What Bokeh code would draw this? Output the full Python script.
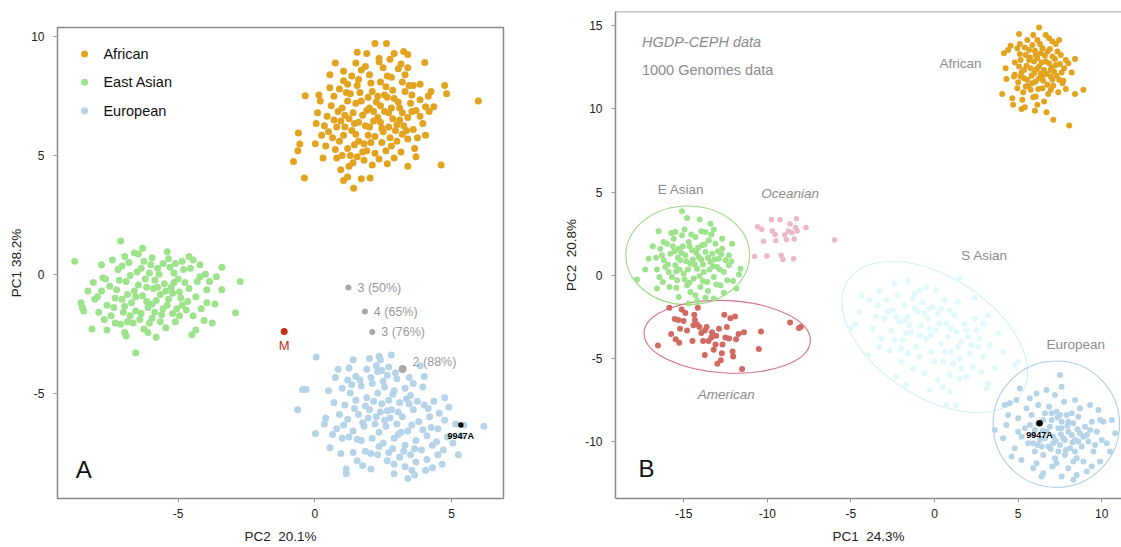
from bokeh.plotting import figure
from bokeh.layouts import row
from bokeh.models import FixedTicker, Span, Range1d
from bokeh.core.properties import value
from bokeh.embed import file_html
from bokeh.resources import INLINE

FONT = "Liberation Sans"

# ---------------- colours ----------------
C_AFR = "#E2A31F"
C_EAS = "#9DE38B"
C_EUR = "#B6D4E8"
C_SAS = "#E2F9FC"
C_OCE = "#EDB8C6"
C_AME = "#D26A62"
C_GRAY = "#A8A8A8"
C_M = "#C23216"

# ---------------- panel A data (PC2, PC1) ----------------
A_AFRICAN = [
    (5.98, 7.30), (4.62, 4.60), (4.75, 7.95), (4.82, 7.60), (-0.78, 4.75), (-0.38, 4.05), (-0.62, 5.20),
    (-0.55, 5.48), (-0.35, 7.52), (1.42, 3.62), (3.40, 4.55), (2.20, 9.72), (2.62, 9.72), (0.75, 8.90),
    (1.55, 9.35), (3.25, 9.38), (3.40, 9.25), (4.02, 8.92), (-0.60, 5.95), (1.05, 3.95), (2.02, 4.05),
    (1.70, 4.02), (0.95, 4.40), (1.20, 4.10), (3.40, 8.70), (4.25, 7.70), (4.18, 6.85), (4.05, 5.85),
    (3.65, 5.30), (3.70, 4.95), (0.10, 6.80), (0.05, 6.35), (0.02, 5.50), (0.30, 4.90), (0.55, 8.40),
    (1.05, 8.55), (1.50, 8.90), (1.90, 9.30), (2.35, 9.10), (2.90, 9.30), (3.15, 8.85), (3.85, 8.00),
    (4.15, 7.50), (3.60, 7.95), (0.20, 7.30), (0.70, 7.50),
    (0.5, 6.0), (0.7, 6.5), (0.9, 5.6), (1.0, 7.0), (1.1, 6.2), (1.2, 5.3), (1.3, 7.6), (1.4, 6.8),
    (1.5, 5.9), (1.6, 6.4), (1.7, 7.3), (1.8, 5.5), (1.9, 6.9), (2.0, 6.2), (2.1, 7.7), (2.2, 5.8),
    (2.3, 6.6), (2.4, 7.1), (2.5, 6.0), (2.6, 7.9), (2.7, 6.8), (2.8, 5.4), (2.9, 7.4), (3.0, 6.3),
    (3.1, 7.0), (3.2, 5.9), (3.3, 7.7), (3.4, 6.6), (3.5, 7.2), (0.6, 7.1), (0.8, 4.9), (1.0, 5.0),
    (1.2, 8.0), (1.4, 4.7), (1.6, 8.2), (1.8, 4.8), (2.0, 8.4), (2.2, 5.1), (2.4, 8.1), (2.6, 5.2),
    (2.8, 8.3), (3.0, 5.6), (3.2, 8.1), (3.4, 5.7), (3.6, 6.1), (0.4, 5.4), (0.9, 7.8), (1.3, 5.0),
    (1.7, 8.6), (2.1, 4.6), (2.5, 8.7), (2.9, 4.9), (3.3, 8.4), (3.7, 6.9), (1.1, 6.7), (1.5, 7.2),
    (1.9, 5.2), (2.3, 7.5), (2.7, 6.2), (3.1, 6.5), (0.8, 6.2), (1.2, 7.3), (1.6, 5.6), (2.0, 7.0),
    (2.4, 6.4), (2.8, 7.0), (3.2, 6.8), (1.35, 6.05), (1.75, 6.7), (2.15, 6.45), (2.55, 6.85),
    (2.95, 6.05), (1.95, 7.45), (2.45, 5.55), (1.55, 7.95), (2.85, 7.75), (0.45, 6.65), (3.85, 7.35),
    (3.75, 5.75), (4.35, 7.05), (0.25, 5.85), (0.15, 7.55), (3.95, 6.35), (2.35, 8.95), (1.85, 8.75),
    (2.75, 9.05), (1.05, 8.15),
    (0.65, 5.75), (0.85, 6.85), (1.05, 5.85), (1.25, 6.55), (1.45, 5.45), (1.65, 7.65), (1.85, 6.25),
    (2.05, 5.55), (2.25, 7.25), (2.45, 6.15), (2.65, 7.45), (2.85, 6.55), (3.05, 7.25), (3.25, 6.25),
    (3.45, 7.95), (1.15, 7.65), (1.35, 8.35), (2.05, 8.05), (2.65, 8.35), (3.05, 8.65), (0.75, 5.25),
    (1.55, 4.95), (2.35, 4.85), (3.15, 5.15), (3.55, 6.85), (0.35, 6.25), (1.95, 5.85), (2.15, 6.85),
    (1.45, 6.35), (2.75, 5.75), (3.35, 6.05), (0.95, 6.45), (1.75, 5.15), (2.55, 7.55), (3.55, 7.55),
    (1.25, 4.55), (2.65, 4.65), (4.05, 7.05), (3.85, 6.65), (0.55, 7.85),
]
A_EAST_ASIAN = [
    (-8.78, 0.55), (-8.55, -1.20), (-8.50, -1.40), (-8.45, -1.55), (-8.30, -0.70), (-8.10, -0.35),
    (-8.15, -2.30), (-7.75, -0.15), (-7.10, 1.40), (-6.30, 1.10), (-5.40, 0.95), (-4.60, 0.75),
    (-4.45, 0.60), (-3.40, 0.30), (-2.73, -0.30), (-3.40, -0.65), (-2.90, -1.62), (-3.75, -2.05),
    (-4.35, -2.35), (-4.50, -2.55), (-5.80, -2.65), (-6.10, -2.45), (-6.55, -3.30), (-6.95, -2.45),
    (-7.30, -2.05), (-7.60, -2.35), (-3.85, -0.30), (-3.95, -1.20), (-4.20, -0.10), (-4.00, 0.00),
    (-7.90, -1.60), (-7.80, 0.40), (-6.60, 0.90), (-5.95, 0.70), (-5.10, 0.45),
    (-7.5, -0.5), (-7.3, -1.0), (-7.2, 0.2), (-7.0, -1.6), (-6.9, -0.3), (-6.8, 0.5), (-6.7, -1.2),
    (-6.6, -0.7), (-6.5, 0.1), (-6.4, -1.9), (-6.3, -0.9), (-6.2, -0.2), (-6.1, -1.4), (-6.0, 0.4),
    (-5.9, -0.6), (-5.8, -1.1), (-5.7, 0.0), (-5.6, -1.7), (-5.5, -0.4), (-5.4, -1.3), (-5.3, 0.3),
    (-5.2, -0.8), (-5.1, -2.0), (-5.0, -0.2), (-4.9, -1.0), (-4.8, 0.2), (-4.7, -1.5), (-4.6, -0.6),
    (-7.6, -1.3), (-7.4, 0.6), (-7.1, -2.1), (-6.85, -0.85), (-6.55, -1.55), (-6.25, 0.55),
    (-5.95, -1.85), (-5.65, -0.85), (-5.35, 0.65), (-5.05, -1.45), (-4.75, -0.35), (-4.45, -1.75),
    (-4.35, -0.95), (-7.95, -0.95), (-6.75, -0.05), (-6.45, -0.45), (-6.15, -1.15), (-5.85, -0.25),
    (-5.55, -1.45), (-5.25, -0.55), (-4.95, -0.75), (-7.25, -0.65), (-6.95, -1.35), (-6.35, -1.65),
    (-5.75, 0.25), (-5.15, 0.05), (-7.05, 0.35), (-4.55, 0.25), (-4.15, -1.45), (-3.95, -0.65),
    (-6.05, -2.05), (-5.45, -2.25), (-6.65, -2.05), (-7.45, -1.75), (-8.05, -1.05), (-6.9, -2.6),
    (-5.2, -1.65), (-4.05, -1.95), (-3.65, -1.25),
    (-7.65, -0.2), (-7.35, -1.4), (-7.15, -0.25), (-6.95, 0.75), (-6.75, -1.75), (-6.55, -0.95),
    (-6.35, 0.25), (-6.15, -0.55), (-5.95, -1.25), (-5.75, -0.55), (-5.55, 0.45), (-5.35, -1.05),
    (-5.15, -0.35), (-4.95, -1.75), (-4.85, 0.55), (-4.65, -1.15), (-6.85, -2.0), (-6.25, -2.3),
    (-5.65, -2.0), (-7.8, -0.7), (-7.7, -1.9), (-4.3, -0.3), (-4.2, 0.4), (-3.6, -0.1), (-6.45, 0.85),
    (-5.85, -1.6), (-7.05, -1.05), (-6.05, 0.05), (-5.45, -0.7), (-4.85, -1.3),
]
A_EUROPEAN = [
    (-0.63, -5.70), (-0.45, -4.85), (-0.32, -4.85), (0.05, -3.48), (0.02, -6.70), (0.40, -6.05),
    (0.35, -6.30), (0.85, -4.00), (0.75, -4.35), (1.40, -3.60), (2.00, -3.55), (2.35, -3.45),
    (2.80, -3.40), (2.40, -3.60), (4.00, -4.30), (3.60, -4.60), (4.75, -5.20), (4.90, -5.60),
    (5.15, -6.30), (6.18, -6.40), (5.35, -6.80), (5.25, -7.60), (4.65, -8.00), (4.30, -8.15),
    (3.65, -8.45), (3.40, -8.60), (2.90, -8.40), (2.05, -8.20), (1.15, -8.40), (1.15, -8.20),
    (0.55, -7.30), (1.40, -7.50), (1.00, -6.90), (4.70, -7.40), (5.05, -7.10), (4.50, -7.60),
    (0.70, -5.40), (0.50, -4.90), (1.20, -4.45), (3.85, -3.85),
    (1.5, -4.3), (1.9, -4.0), (2.3, -4.1), (2.7, -3.9), (3.0, -4.4), (1.3, -5.0), (1.7, -4.7),
    (2.1, -4.6), (2.5, -4.5), (2.9, -4.9), (3.3, -4.8), (1.1, -5.5), (1.5, -5.3), (1.9, -5.2),
    (2.3, -5.0), (2.7, -5.3), (3.1, -5.4), (3.5, -5.1), (1.2, -6.1), (1.6, -5.9), (2.0, -5.7),
    (2.4, -5.8), (2.8, -5.7), (3.2, -6.0), (3.6, -5.7), (4.0, -5.5), (1.4, -6.6), (1.8, -6.4),
    (2.2, -6.3), (2.6, -6.4), (3.0, -6.3), (3.4, -6.6), (3.8, -6.2), (4.2, -6.0), (1.7, -7.0),
    (2.1, -6.9), (2.5, -7.1), (2.9, -6.9), (3.3, -7.2), (3.7, -7.0), (4.1, -6.8), (4.5, -6.5),
    (2.3, -7.6), (2.7, -7.5), (3.1, -7.7), (3.5, -7.6), (3.9, -7.4), (4.3, -7.2), (2.9, -8.0),
    (3.3, -8.1), (3.7, -7.9), (4.1, -7.8), (0.9, -5.9), (0.8, -6.5), (1.0, -4.8), (2.55, -4.75),
    (2.45, -5.45), (2.15, -5.35), (2.85, -5.05), (2.75, -6.05), (2.35, -6.65), (3.15, -6.65),
    (1.95, -6.05), (3.45, -5.45), (2.05, -4.35), (2.65, -4.25), (1.85, -7.45), (4.35, -5.35),
    (4.55, -5.85), (4.75, -6.15), (5.45, -6.35), (1.55, -7.85), (0.95, -7.55), (3.95, -4.75),
    (1.25, -3.95),
    (1.65, -4.45), (2.45, -4.05), (2.95, -4.15), (1.45, -5.65), (1.85, -5.55), (2.65, -5.75),
    (3.05, -5.8), (3.35, -5.25), (1.75, -6.25), (2.25, -6.0), (2.55, -6.15), (3.05, -6.75),
    (3.55, -6.35), (3.95, -6.55), (2.35, -7.25), (2.85, -7.35), (3.25, -7.45), (3.65, -7.35),
    (4.25, -6.45), (4.45, -7.05), (2.65, -7.85), (3.55, -8.25), (1.25, -6.85), (1.55, -6.95),
    (3.75, -5.35), (4.15, -5.65), (1.35, -4.65), (2.25, -3.85), (1.05, -6.35), (0.65, -6.75),
    (4.85, -6.85), (3.45, -4.35), (2.05, -7.55), (4.05, -8.25), (1.75, -8.05),
]
A_PROJ_X = [1.23, 1.83, 2.10, 3.21]
A_PROJ_Y = [-0.56, -1.57, -2.43, -3.99]
A_PROJ_LABELS = ["3 (50%)", "4 (65%)", "3 (76%)", "2 (88%)"]
A_M = (-1.12, -2.41)
A_9947A = (5.34, -6.35)
LEGEND_LABELS = ["African", "East Asian", "European"]
LEGEND_COLORS = [C_AFR, C_EAS, C_EUR]

# ---------------- panel B data (PC1, PC2) ----------------
B_AFRICAN = [
    (4.15, 13.35), (4.25, 12.45), (4.30, 11.80), (4.05, 10.90), (4.65, 10.65), (4.70, 10.25),
    (5.05, 14.50), (5.10, 13.90), (6.25, 14.90), (5.90, 14.45), (7.05, 14.05), (7.25, 13.90),
    (8.00, 12.75), (8.40, 13.00), (8.90, 11.15), (8.40, 10.90), (8.05, 9.00), (7.10, 9.35),
    (6.70, 9.80), (6.00, 9.90), (5.40, 10.10), (5.20, 10.00), (4.80, 12.05), (7.85, 11.20),
    (7.70, 11.70), (4.55, 13.80), (4.40, 13.55), (8.20, 12.20),
    (4.8, 12.8), (5.0, 11.6), (5.1, 13.3), (5.2, 12.2), (5.3, 11.0), (5.4, 13.7), (5.5, 12.6),
    (5.6, 11.4), (5.7, 13.1), (5.8, 12.0), (5.9, 10.7), (6.0, 13.5), (6.1, 12.4), (6.2, 11.2),
    (6.3, 13.9), (6.4, 12.8), (6.5, 11.7), (6.6, 13.2), (6.7, 12.1), (6.8, 10.9), (6.9, 13.6),
    (7.0, 12.5), (7.1, 11.4), (7.2, 13.0), (7.3, 12.0), (7.4, 11.0), (7.5, 12.7), (7.6, 12.2),
    (5.05, 12.55), (5.35, 11.85), (5.65, 12.95), (5.95, 12.85), (6.25, 11.85), (6.55, 12.35),
    (6.85, 12.75), (7.15, 12.25), (5.45, 13.25), (5.85, 13.85), (6.45, 13.65), (6.75, 11.45),
    (6.05, 11.65), (5.75, 11.15), (6.95, 11.95), (6.35, 12.15), (6.15, 13.05), (7.35, 13.45),
    (7.65, 11.55), (5.25, 10.55), (6.55, 10.45), (4.95, 11.25), (5.55, 14.15), (6.85, 14.25),
    (7.55, 13.25), (4.75, 11.95), (6.15, 10.25), (6.65, 14.45),
    (5.15, 12.95), (5.35, 12.35), (5.55, 11.75), (5.75, 12.45), (5.95, 12.15), (6.05, 13.25),
    (6.25, 12.55), (6.45, 11.95), (6.65, 12.85), (6.75, 13.45), (6.95, 12.35), (7.05, 11.75),
    (7.25, 12.65), (7.45, 11.75), (5.65, 13.55), (6.35, 13.35), (7.05, 13.15), (5.85, 11.55),
    (6.45, 11.25), (6.95, 11.15), (5.45, 11.35), (7.75, 12.45), (5.15, 11.95), (6.15, 14.15),
    (6.05, 10.75), (7.85, 12.95), (4.95, 13.65), (7.45, 14.15),
]
B_EAST_ASIAN = [
    (-17.80, -0.25), (-17.10, 1.00), (-16.60, 0.35), (-16.50, 2.65), (-15.50, 2.60), (-15.10, 3.85),
    (-14.80, 3.45), (-14.05, 3.35), (-13.40, 3.10), (-13.20, 2.75), (-12.70, 2.20), (-12.10, 1.90),
    (-11.60, 0.40), (-11.70, 0.05), (-11.85, -0.80), (-12.05, -0.35), (-12.60, -1.05), (-13.20, -1.40),
    (-14.20, -1.55), (-14.70, -1.70), (-15.30, -1.30), (-16.25, -0.40), (-16.60, -0.80), (-15.85, -0.70),
    (-16.20, 2.00), (-17.30, 0.35), (-12.30, 1.20), (-13.70, 2.60), (-14.30, -1.20), (-13.70, -1.35),
    (-16.4, 1.6), (-16.2, 0.9), (-16.0, 1.9), (-15.9, 0.2), (-15.8, 1.3), (-15.6, 2.2), (-15.5, 0.6),
    (-15.4, -0.3), (-15.3, 1.6), (-15.2, 0.9), (-15.1, 2.4), (-15.0, 0.1), (-14.9, 1.2), (-14.8, -0.6),
    (-14.7, 2.0), (-14.6, 0.7), (-14.5, 1.5), (-14.4, -0.2), (-14.3, 2.3), (-14.2, 0.4), (-14.1, 1.1),
    (-14.0, -0.7), (-13.9, 1.8), (-13.8, 0.2), (-13.7, 1.4), (-13.6, -0.4), (-13.5, 2.1), (-13.4, 0.8),
    (-13.3, 1.3), (-13.2, -0.1), (-13.1, 1.9), (-13.0, 0.5), (-12.9, 1.0), (-12.8, -0.6), (-12.7, 1.6),
    (-12.6, 0.2), (-12.5, 0.9), (-16.1, 0.5), (-15.7, -0.1), (-15.35, 1.05), (-15.05, 1.75),
    (-14.75, 0.35), (-14.45, 0.95), (-14.15, 1.65), (-13.85, 0.65), (-13.55, 1.05), (-13.25, 0.55),
    (-12.95, 1.45), (-14.95, 2.75), (-13.95, 2.65), (-15.55, 1.45), (-14.05, -0.05), (-14.6, -1.0),
    (-12.4, -0.3), (-16.45, -0.1), (-12.3, 0.6),
    (-16.3, 1.2), (-15.95, 0.65), (-15.65, 1.75), (-15.45, 0.25), (-15.15, 1.35), (-14.85, 0.85),
    (-14.65, 1.75), (-14.35, 0.65), (-14.25, 1.35), (-13.95, 0.95), (-13.75, 1.85), (-13.45, 0.35),
    (-13.15, 0.95), (-12.85, 0.35), (-12.75, 1.25), (-15.25, 0.35), (-14.55, 2.45), (-13.35, 2.45),
    (-15.75, 2.55), (-16.65, 1.05), (-14.95, -0.25), (-13.85, -0.35), (-13.05, -0.55), (-15.45, -0.75),
    (-12.15, 0.85), (-16.85, 1.75), (-14.65, -0.45), (-13.55, -0.95),
]
B_OCEANIAN = [
    (-10.59, 2.92), (-10.34, 2.77), (-10.23, 2.04), (-10.02, 1.16), (-9.75, 3.36), (-9.70, 2.67),
    (-9.53, 2.46), (-9.49, 2.08), (-9.24, 3.34), (-9.17, 1.20), (-9.07, 0.95), (-8.96, 2.42),
    (-8.85, 2.14), (-8.75, 2.67), (-8.64, 3.09), (-8.54, 2.56), (-8.43, 0.99), (-8.39, 2.18),
    (-8.32, 2.88), (-8.26, 3.40), (-8.22, 2.67), (-7.69, 2.88), (-10.76, 1.13), (-5.99, 2.12),
]
B_AMERICAN = [
    (-16.54, -4.22), (-15.86, -1.95), (-15.75, -3.53), (-15.54, -2.63), (-15.48, -3.84), (-15.33, -2.69),
    (-15.22, -3.21), (-15.27, -4.05), (-15.12, -2.06), (-15.01, -2.75), (-14.90, -2.27), (-14.80, -3.32),
    (-14.48, -3.95), (-14.42, -3.00), (-14.37, -2.37), (-14.33, -2.69), (-14.20, -2.96), (-14.16, -1.95),
    (-14.06, -3.11), (-13.95, -3.47), (-13.84, -3.95), (-13.74, -3.32), (-13.63, -3.11), (-13.52, -3.95),
    (-13.31, -3.42), (-13.21, -4.47), (-13.10, -4.16), (-13.06, -3.63), (-12.99, -5.32), (-12.89, -3.21),
    (-12.78, -5.11), (-12.68, -4.16), (-12.57, -2.37), (-12.51, -3.74), (-12.42, -3.11), (-12.29, -3.80),
    (-12.21, -2.58), (-12.08, -4.58), (-12.04, -4.89), (-11.93, -2.48), (-11.87, -3.84), (-11.72, -3.53),
    (-11.51, -5.63), (-11.40, -3.42), (-10.51, -4.43), (-10.38, -3.38), (-8.64, -2.84), (-8.11, -3.17),
    (-8.00, -3.11), (-12.72, -4.68), (-13.35, -3.74), (-13.74, -4.79),
]
B_SOUTH_ASIAN = [
    (-4.75, -2.95), (-4.35, -1.20), (-3.90, -1.50), (-3.30, -0.95), (-2.40, -0.50), (-1.60, -0.35),
    (-0.50, -0.70), (0.10, -0.90), (1.50, -0.20), (2.40, -1.35), (3.20, -2.40), (3.80, -3.50),
    (4.10, -4.60), (4.80, -5.40), (5.00, -5.20), (3.20, -6.50), (3.10, -6.80), (1.50, -6.20),
    (0.90, -7.00), (0.70, -7.80), (1.30, -7.80), (-1.70, -6.60), (-2.30, -6.10), (-3.30, -4.30),
    (-4.00, -4.80), (-5.00, -3.20), (-4.50, -2.20), (2.80, -5.80), (-0.30, -6.90),
    (-3.4, -1.8), (-3.0, -2.6), (-2.9, -1.5), (-2.6, -3.3), (-2.5, -2.1), (-2.2, -1.2), (-2.1, -2.8),
    (-1.9, -3.9), (-1.8, -1.8), (-1.6, -2.5), (-1.4, -3.4), (-1.3, -1.4), (-1.1, -4.3), (-1.0, -2.2),
    (-0.8, -3.0), (-0.7, -1.6), (-0.5, -3.8), (-0.4, -2.6), (-0.2, -4.6), (-0.1, -1.9), (0.1, -3.3),
    (0.2, -2.3), (0.4, -4.1), (0.5, -5.2), (0.7, -2.9), (0.8, -3.7), (1.0, -4.6), (1.2, -2.4),
    (1.3, -3.4), (1.5, -5.0), (1.6, -4.0), (1.8, -2.9), (2.0, -3.7), (2.1, -4.7), (2.3, -5.5),
    (2.5, -3.3), (2.6, -4.3), (2.9, -4.9), (-3.7, -3.2), (-3.2, -3.8), (-2.7, -4.5), (-2.0, -5.2),
    (-1.3, -5.6), (-0.6, -5.9), (0.2, -6.3), (0.9, -6.0), (1.9, -6.1), (-0.9, -0.9), (0.6, -1.5),
    (1.4, -1.6), (-1.6, -4.7), (-2.4, -3.9), (3.3, -4.2), (2.9, -2.9), (-0.3, -3.2), (0.4, -2.0),
    (1.1, -5.3), (-1.8, -2.7), (-0.9, -4.9), (3.6, -5.6),
    (-2.8, -2.2), (-2.3, -2.5), (-1.5, -3.0), (-1.2, -2.0), (-0.6, -2.3), (-0.2, -3.6), (0.3, -2.9),
    (0.6, -4.6), (1.0, -3.2), (1.4, -4.3), (1.9, -3.3), (2.2, -4.2), (-1.7, -3.5), (-0.9, -3.6),
    (0.0, -5.2), (-2.0, -4.4), (0.9, -2.1), (2.7, -3.8), (-3.5, -2.5), (1.6, -5.6), (-1.2, -1.1),
    (0.5, -6.7), (-0.3, -2.0), (2.4, -2.6),
]
B_EUROPEAN = [
    (3.60, -9.30), (4.10, -9.80), (4.20, -7.80), (4.50, -7.70), (4.90, -7.50), (5.10, -6.80),
    (5.70, -7.40), (6.10, -7.10), (6.70, -6.90), (7.20, -7.20), (7.60, -6.70), (7.50, -6.00),
    (8.40, -7.50), (9.30, -7.80), (9.80, -8.10), (10.10, -8.80), (10.60, -8.70), (10.80, -9.50),
    (10.50, -10.60), (10.30, -10.10), (9.90, -11.20), (9.40, -11.50), (9.10, -11.80), (8.50, -12.00),
    (8.30, -12.30), (7.60, -12.10), (6.50, -11.90), (5.90, -11.60), (5.20, -11.10), (4.80, -10.40),
    (4.60, -10.90), (4.30, -9.00), (5.00, -8.60), (4.40, -8.40), (6.40, -12.10),
    (5.4, -9.2), (5.6, -10.1), (5.8, -8.4), (5.9, -9.6), (6.0, -10.6), (6.2, -8.9), (6.3, -9.9),
    (6.5, -10.8), (6.6, -8.3), (6.7, -9.4), (6.8, -10.3), (7.0, -8.7), (7.1, -9.7), (7.2, -11.0),
    (7.3, -8.2), (7.4, -9.2), (7.5, -10.2), (7.6, -8.8), (7.7, -9.8), (7.8, -10.8), (7.9, -8.4),
    (8.0, -9.4), (8.1, -10.4), (8.3, -8.9), (8.4, -9.9), (8.5, -11.0), (8.6, -8.5), (8.7, -9.5),
    (8.8, -10.3), (9.0, -9.1), (9.2, -10.0), (9.4, -8.8), (9.5, -10.6), (5.5, -8.0), (6.1, -11.3),
    (7.05, -11.5), (8.0, -11.6), (8.9, -11.2), (9.7, -9.4), (10.0, -9.9), (6.85, -7.9), (7.75, -7.6),
    (8.7, -8.0), (5.2, -9.7), (6.45, -9.35), (7.25, -9.95), (7.95, -9.05), (8.25, -10.05),
    (7.55, -9.55), (6.95, -10.45), (8.55, -9.25), (7.35, -8.55), (6.15, -10.2), (9.1, -9.6), (7.85, -10.5),
    (5.7, -9.0), (6.0, -9.3), (6.4, -10.3), (6.6, -9.8), (6.9, -9.1), (7.1, -10.1), (7.4, -10.6),
    (7.6, -9.2), (7.8, -9.9), (8.0, -8.8), (8.2, -9.6), (8.4, -10.6), (8.6, -10.0), (8.9, -9.7),
    (9.3, -9.3), (7.0, -8.3), (7.5, -8.4), (8.2, -8.3), (6.5, -8.7), (5.9, -10.1), (7.3, -11.3),
    (8.3, -11.2), (9.6, -10.2), (5.0, -9.4), (9.9, -8.7), (6.2, -7.8),
]
B_9947A = (6.28, -8.89)
# confidence ellipses: centre x, centre y, width, height, angle (deg)
ELL_NAMES = ["E Asian", "American", "S Asian", "European"]
ELL_X = [-14.76, -12.40, 0.01, 7.28]
ELL_Y = [1.20, -3.70, -3.71, -8.95]
ELL_W = [7.40, 9.96, 12.4, 7.56]
ELL_H = [5.94, 4.36, 7.2, 7.60]
ELL_ANGLE = [0, -3, -33, 0]
ELL_COLORS = ["#9ADB84", "#D4728E", "#D2F1F7", "#AED0E3"]


def xs(d):
    return [p[0] for p in d]


def ys(d):
    return [p[1] for p in d]


def style(p, xt, yt, xlab, ylab, ylab_standoff):
    p.xgrid.visible = False
    p.ygrid.visible = False
    p.background_fill_color = "white"
    p.border_fill_color = "white"
    p.frame_align = False
    p.xaxis.ticker = FixedTicker(ticks=xt)
    p.yaxis.ticker = FixedTicker(ticks=yt)
    p.xaxis.major_label_overrides = {t: str(t) for t in xt}
    p.yaxis.major_label_overrides = {t: str(t) for t in yt}
    p.xaxis.axis_label = xlab
    p.yaxis.axis_label = ylab
    for ax in (p.xaxis[0], p.yaxis[0]):
        ax.axis_line_color = None
        ax.major_tick_in = 0
        ax.major_tick_out = 4
        ax.major_tick_line_color = "#9a9a9a"
        ax.minor_tick_line_color = None
        ax.major_label_text_font = FONT
        ax.major_label_text_font_size = "12px"
        ax.major_label_text_color = "#222222"
        ax.axis_label_text_font = FONT
        ax.axis_label_text_font_size = "13.5px"
        ax.axis_label_text_font_style = "normal"
        ax.axis_label_text_color = "#222222"
    p.xaxis[0].major_label_standoff = 6
    p.xaxis[0].axis_label_standoff = 8
    p.yaxis[0].major_label_standoff = 9
    p.yaxis[0].axis_label_standoff = ylab_standoff


def txt(p, x, y, s, size, color, style="normal", align="center", baseline="middle", **kw):
    p.text(x=[x], y=[y], text=[s], text_font=value(FONT), text_font_size=size,
           text_color=color, text_font_style=style, text_align=align,
           text_baseline=baseline, **kw)


NB = "\u00a0"

# ================= Panel A =================
pa = figure(width=560, height=547, title=None, align="start",
            x_range=Range1d(-9.41, 6.90), y_range=Range1d(-9.44, 10.39),
            output_backend="svg", toolbar_location=None,
            min_border_left=57, min_border_right=57, min_border_top=27, min_border_bottom=49)
style(pa, [-5, 0, 5], [-5, 0, 5, 10], "PC2" + NB + " 20.1%", "PC1 38.2%", 4)
pa.outline_line_color = "#8a8a8a"
pa.outline_line_width = 1.5

pa.scatter(xs(A_AFRICAN), ys(A_AFRICAN), size=7, fill_color=C_AFR, line_color=None)
pa.scatter(xs(A_EAST_ASIAN), ys(A_EAST_ASIAN), size=7, fill_color=C_EAS, line_color=None)
pa.scatter(xs(A_EUROPEAN), ys(A_EUROPEAN), size=7, fill_color=C_EUR, line_color=None)

pa.scatter(A_PROJ_X[:3], A_PROJ_Y[:3], size=6, fill_color=C_GRAY, line_color=None)
pa.scatter(A_PROJ_X[3:], A_PROJ_Y[3:], size=8, fill_color=C_GRAY, line_color=None)
pa.text(x=A_PROJ_X[:3], y=A_PROJ_Y[:3], text=A_PROJ_LABELS[:3], x_offset=9,
        text_font=value(FONT), text_font_size="12.5px", text_color="#999999",
        text_align="left", text_baseline="middle")
pa.text(x=A_PROJ_X[3:], y=A_PROJ_Y[3:], text=A_PROJ_LABELS[3:], x_offset=10, y_offset=-7,
        text_font=value(FONT), text_font_size="12.5px", text_color="#999999",
        text_align="left", text_baseline="middle")

pa.scatter([A_M[0]], [A_M[1]], size=7, fill_color=C_M, line_color=None)
pa.text(x=[A_M[0]], y=[A_M[1]], text=["M"], y_offset=14, text_font=value(FONT),
        text_font_size="13px", text_color=C_M, text_align="center", text_baseline="middle")
pa.scatter([A_9947A[0]], [A_9947A[1]], size=5.5, fill_color="black", line_color=None)
pa.text(x=[A_9947A[0]], y=[A_9947A[1]], text=["9947A"], y_offset=11, text_font=value(FONT),
        text_font_size="9px", text_font_style="bold", text_color="black",
        text_align="center", text_baseline="middle")

# legend
leg_y = [9.27, 8.08, 6.88]
pa.scatter([-8.42] * 3, leg_y, size=7, fill_color=LEGEND_COLORS, line_color=None)
pa.text(x=[-7.73] * 3, y=leg_y, text=LEGEND_LABELS, text_font=value(FONT),
        text_font_size="14.5px", text_color="#111111", text_align="left", text_baseline="middle")
txt(pa, -8.45, -8.23, "A", "24px", "#111111")

# ================= Panel B =================
B_X_END = 11.18
B_Y_END = 15.86
pb = figure(width=561, height=547, title=None, align="start",
            x_range=Range1d(-19.08, B_X_END), y_range=Range1d(-13.42, B_Y_END),
            output_backend="svg", toolbar_location=None,
            min_border_left=55, min_border_right=0, min_border_top=11, min_border_bottom=49)
style(pb, [-15, -10, -5, 0, 5, 10], [-10, -5, 0, 5, 10, 15],
      "PC1" + NB + " 24.3%", "PC2" + NB + " 20.8%", 3)
pb.outline_line_color = None
for ax in (pb.xaxis[0], pb.yaxis[0]):
    ax.axis_line_color = "#8a8a8a"
    ax.axis_line_width = 1.5
pb.add_layout(Span(location=B_Y_END, dimension="width", line_color="#8a8a8a", line_width=1.5))

pb.ellipse(x=ELL_X, y=ELL_Y, width=ELL_W, height=ELL_H, angle=ELL_ANGLE, angle_units="deg",
           fill_color=None, line_color=ELL_COLORS, line_width=1.1)

pb.scatter(xs(B_SOUTH_ASIAN), ys(B_SOUTH_ASIAN), size=6, fill_color=C_SAS, line_color=None)
pb.scatter(xs(B_AFRICAN), ys(B_AFRICAN), size=6, fill_color=C_AFR, line_color=None)
pb.scatter(xs(B_EAST_ASIAN), ys(B_EAST_ASIAN), size=6, fill_color=C_EAS, line_color=None)
pb.scatter(xs(B_OCEANIAN), ys(B_OCEANIAN), size=5.5, fill_color=C_OCE, line_color=None)
pb.scatter(xs(B_AMERICAN), ys(B_AMERICAN), size=6, fill_color=C_AME, line_color=None)
pb.scatter(xs(B_EUROPEAN), ys(B_EUROPEAN), size=6, fill_color=C_EUR, line_color=None)
pb.scatter([B_9947A[0]], [B_9947A[1]], size=6.5, fill_color="black", line_color=None)
pb.text(x=[B_9947A[0]], y=[B_9947A[1]], text=["9947A"], y_offset=12, text_font=value(FONT),
        text_font_size="9px", text_font_style="bold", text_color="black",
        text_align="center", text_baseline="middle")

GRAY_TXT = "#8c8c8c"
txt(pb, 1.55, 12.75, "African", "13.5px", GRAY_TXT)
txt(pb, -15.16, 5.17, "E Asian", "13.5px", GRAY_TXT)
txt(pb, -8.64, 4.94, "Oceanian", "13.5px", GRAY_TXT, style="italic")
txt(pb, 2.99, 1.20, "S Asian", "13.5px", GRAY_TXT)
txt(pb, 8.45, -4.16, "European", "13.5px", GRAY_TXT)
txt(pb, -12.46, -7.16, "American", "13.5px", GRAY_TXT, style="italic")
txt(pb, -17.5, 14.02, "HGDP-CEPH data", "14.5px", GRAY_TXT, style="italic", align="left")
txt(pb, -17.5, 12.36, "1000 Genomes data", "14.5px", GRAY_TXT, align="left")
txt(pb, -17.23, -11.64, "B", "24px", "#111111")

layout = row(pa, pb, spacing=0)
open("out.html", "w").write(file_html(layout, INLINE))
